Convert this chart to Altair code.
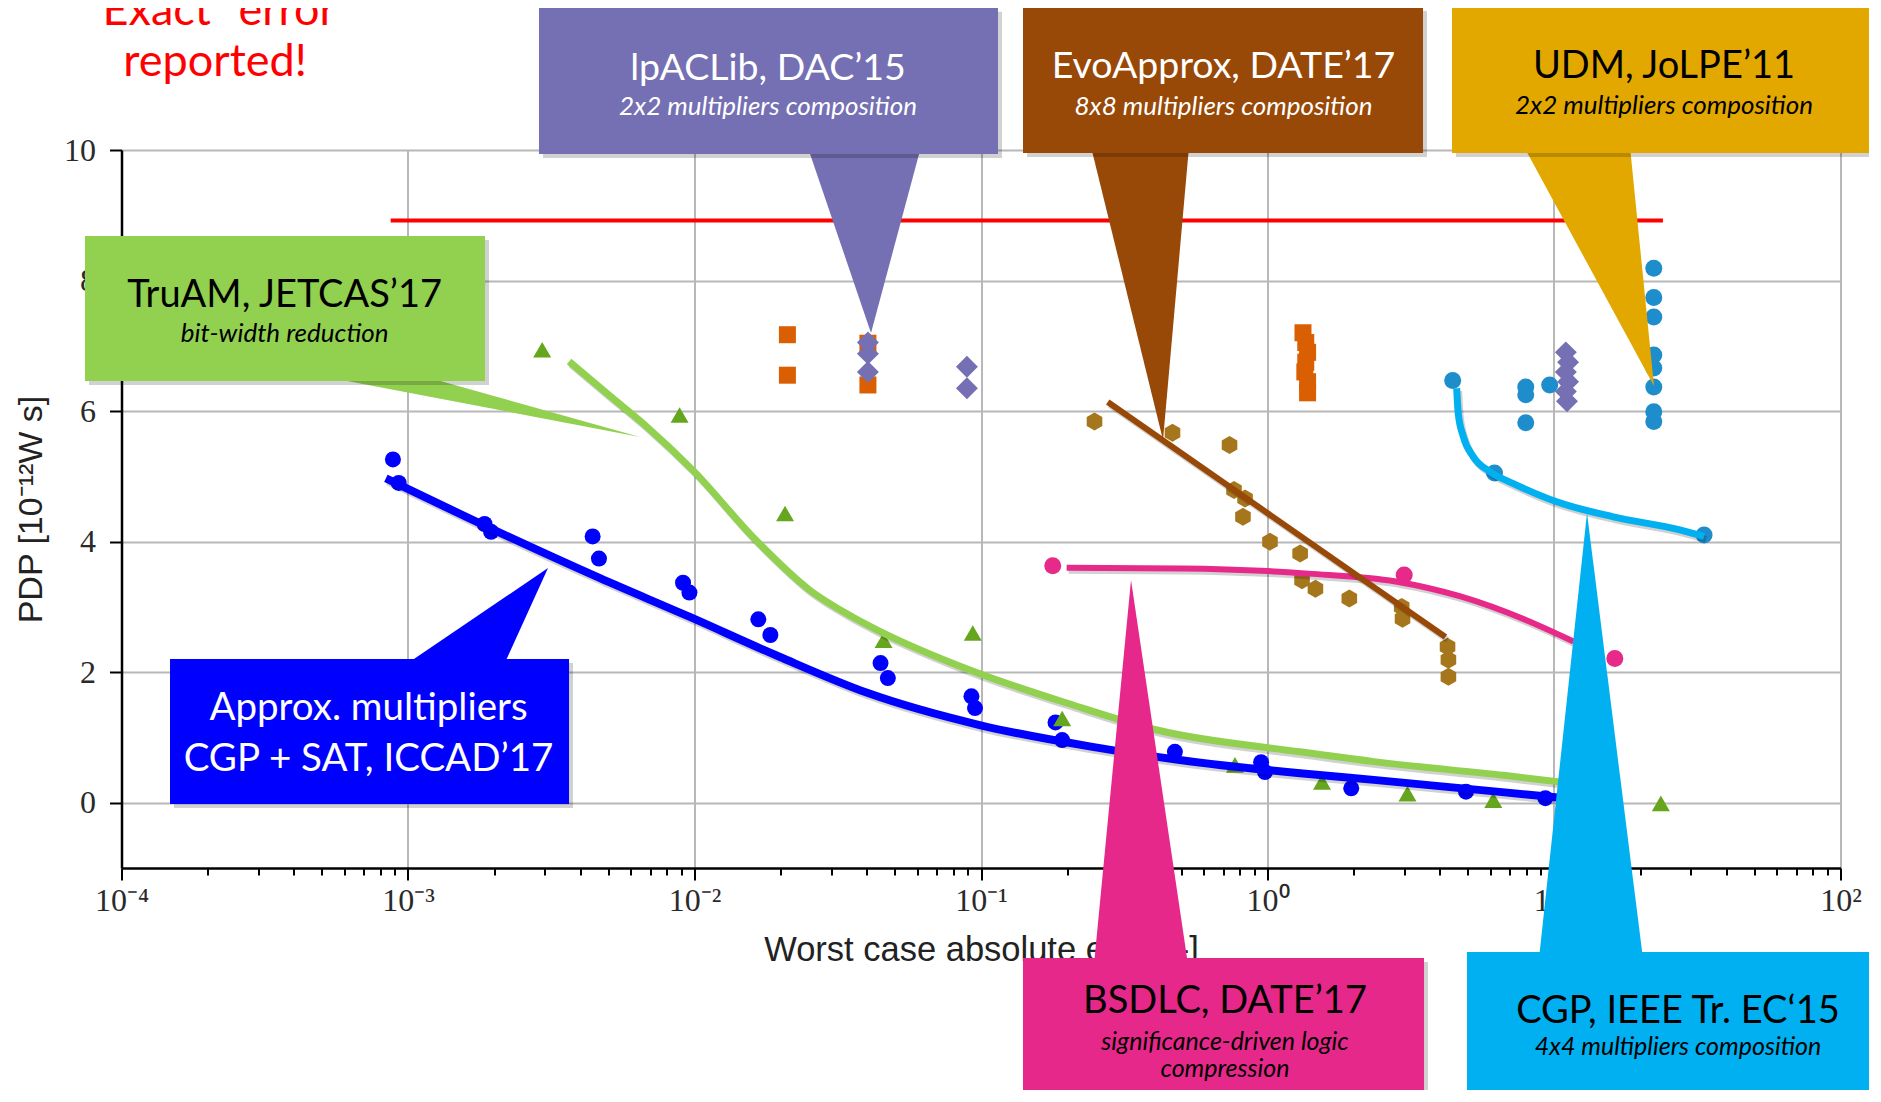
import json
import altair as alt
import pandas as pd

# ---------------- data ----------------
# Approx. multipliers CGP + SAT (ICCAD'17) - blue dots
cgpsat_x = [8.86e-4, 9.28e-4, 1.85e-3, 1.95e-3, 4.41e-3, 4.64e-3, 9.12e-3, 9.6e-3,
            0.0167, 0.0184, 0.0446, 0.0473, 0.0926, 0.0953, 0.182, 0.192,
            0.475, 0.95, 0.98, 1.96, 4.93, 9.33]
cgpsat_y = [5.26, 4.90, 4.27, 4.15, 4.08, 3.74, 3.37, 3.22,
            2.81, 2.57, 2.14, 1.91, 1.63, 1.45, 1.23, 0.96,
            0.78, 0.62, 0.47, 0.22, 0.17, 0.07]
# TruAM - green triangles
truam_x = [2.94e-3, 8.87e-3, 0.0207, 0.0457, 0.0936, 0.192, 0.77, 1.55, 3.08, 6.14, 23.6]
truam_y = [6.94, 5.94, 4.43, 2.49, 2.60, 1.29, 0.58, 0.32, 0.14, 0.04, -0.01]
# orange squares
square_x = [0.0211, 0.0211, 0.0403, 0.0403, 1.33, 1.36, 1.38, 1.36, 1.35, 1.38, 1.38]
square_y = [7.17, 6.55, 7.04, 6.40, 7.20, 7.05, 6.90, 6.75, 6.60, 6.45, 6.28]
# lpACLib - purple diamonds
lpaclib_x = [0.0403, 0.0403, 0.0403, 0.0893, 0.0893, 11.0, 11.2, 11.0, 11.2, 11.0, 11.1]
lpaclib_y = [7.05, 6.88, 6.60, 6.68, 6.35, 6.90, 6.75, 6.60, 6.45, 6.30, 6.15]
# UDM / CGP - light blue dots
udm_x = [4.43, 6.2, 7.97, 7.97, 7.97, 9.66, 22.3, 22.3, 22.3, 22.3, 22.3, 22.3, 22.3, 22.3, 33.4]
udm_y = [6.47, 5.05, 6.37, 6.25, 5.82, 6.40, 8.19, 7.74, 7.44, 6.86, 6.66, 6.37, 5.99, 5.84, 4.10]
# BSDLC - pink dots
bsdlc_x = [0.178, 3.0, 16.3]
bsdlc_y = [3.63, 3.49, 2.21]
# EvoApprox - hexagons
evo_x = [0.249, 0.466, 0.737, 0.764, 0.835, 0.821, 1.02, 1.30, 1.32, 1.47, 1.93, 2.94, 2.96, 4.25, 4.28, 4.28]
evo_y = [5.84, 5.67, 5.48, 4.79, 4.66, 4.38, 4.00, 3.82, 3.41, 3.28, 3.13, 3.00, 2.82, 2.39, 2.19, 1.93]

# fitted fronts
blue_fit_x = [8.37e-4, 1.95e-3, 4.68e-3, 9.59e-3, 0.0197, 0.0403, 0.0989, 0.242, 0.494, 1.30, 2.35, 9.48, 16.3]
blue_fit_y = [4.97, 4.20, 3.44, 2.85, 2.24, 1.68, 1.19, 0.86, 0.655, 0.45, 0.35, 0.095, -0.005]
green_fit_x = [3.65e-3, 5.01e-3, 6.70e-3, 9.94e-3, 0.0164, 0.0252, 0.0355, 0.0433, 0.0919, 0.202, 0.415, 1.30, 2.35, 6.68, 16.3]
green_fit_y = [6.76, 6.25, 5.79, 5.08, 4.02, 3.26, 2.85, 2.65, 2.03, 1.52, 1.11, 0.78, 0.63, 0.42, 0.22]
pink_fit_x = [0.199, 0.501, 1.0, 1.39, 2.80, 4.72, 7.97, 11.7]
pink_fit_y = [3.60, 3.59, 3.55, 3.51, 3.39, 3.16, 2.80, 2.47]
brown_fit_x = [0.277, 4.18]
brown_fit_y = [6.14, 2.54]
cyan_fit_x = [4.575, 4.63, 4.825, 5.23, 5.98, 7.21, 10.22, 16.1, 27.5, 33.4]
cyan_fit_y = [6.35, 5.97, 5.61, 5.30, 5.07, 4.89, 4.61, 4.38, 4.18, 4.08]
# exact-error reference line
exact_x = [8.7e-4, 24.0]
exact_y = 8.92

x_tick_labels = ["10⁻⁴", "10⁻³", "10⁻²", "10⁻¹", "10⁰", "10¹", "10²"]
y_tick_values = [0, 2, 4, 6, 8, 10]

# ---------------- callouts (positions in data units, x as log10) ----------------
boxes = [  # logx0, logx1, y0, y1, fill
    (-2.5428, -0.9407, 9.94, 12.18, "#7570B3"),
    (-0.8534, 0.5428, 9.954, 12.19, "#984807"),
    (0.644, 2.124, 9.954, 12.19, "#E2A800"),
    (-4.1274, -2.7312, 6.461, 8.682, "#92D050"),
    (-3.8307, -2.438, -0.02, 2.202, "#0000FF"),
    (-0.8534, 0.5463, -4.9, -2.379, "#E6288A"),
    (0.6963, 2.1414, -4.524, -2.288, "#00B0F0"),
]
pointers = [  # base_y, base_logx_left, base_logx_right, tip_logx, tip_y, fill
    (10.05, -1.6052, -1.2094, -1.3839, 7.196, "#7570B3"),
    (10.05, -0.6161, -0.274, -0.3647, 5.557, "#984807"),
    (10.05, 0.8953, 1.2653, 1.349, 6.384, "#E2A800"),
    (6.55, -3.3176, -2.9581, -2.190, 5.603, "#92D050"),
    (2.10, -3.014, -2.6663, -2.5113, 3.596, "#0000FF"),
    (-2.48, -0.6056, -0.2775, -0.4764, 3.412, "#E6288A"),
    (-2.39, 0.9476, 1.3106, 1.1152, 4.438, "#00B0F0"),
]
titles = [  # text, logx, y, color, size
    ("lpACLib, DAC’15", -1.7435, 11.072, "white", 37.5),
    ("EvoApprox, DATE’17", -0.1536, 11.10, "white", 37.5),
    ("UDM, JoLPE’11", 1.3839, 11.11, "black", 38),
    ("TruAM, JETCAS’17", -3.4304, 7.595, "black", 38),
    ("Approx. multipliers", -3.1379, 1.267, "white", 38.5),
    ("CGP + SAT, ICCAD’17", -3.1379, 0.486, "white", 38.5),
    ("BSDLC, DATE’17", -0.1483, -3.222, "black", 38),
    ("CGP, IEEE Tr. EC‘15", 1.4328, -3.375, "black", 38),
    ("“Exact” error", -3.6876, 11.92, "#FF0000", 45),
    ("reported!", -3.6736, 11.134, "#FF0000", 45),
]
subtitles = [  # text, logx, y, color, size
    ("2x2 multipliers composition", -1.7435, 10.536, "white", 26),
    ("8x8 multipliers composition", -0.1536, 10.536, "white", 26),
    ("2x2 multipliers composition", 1.3839, 10.55, "black", 26),
    ("bit-width reduction", -3.4304, 7.058, "black", 26),
    ("significance-driven logic", -0.1483, -3.789, "black", 25),
    ("compression", -0.1483, -4.203, "black", 25),
    ("4x4 multipliers composition", 1.4328, -3.866, "black", 25),
]

# ---------------- scales & axes ----------------
DEC = "abs(log(datum.value)/LN10 - round(log(datum.value)/LN10)) < 0.001"
label_expr = (f"{DEC} ? {json.dumps(x_tick_labels, ensure_ascii=False)}"
              f"[round(log(datum.value)/LN10)+4] : ''")

xs = alt.Scale(type="log", domain=[1e-4, 100], nice=False)
ys = alt.Scale(domain=[-1, 10], nice=False, zero=False)

xaxis = alt.Axis(
    title="Worst case absolute error [-]",
    tickCount=60, labelExpr=label_expr, labelOverlap=False, labelFlush=False,
    labelFont="Liberation Serif", labelFontSize=32, labelColor="#2a2a2a", labelPadding=5,
    tickSize={"condition": {"test": DEC, "value": 12}, "value": 7},
    tickWidth=2, tickColor="black",
    grid=True, gridColor="#b8b8b8", gridWidth=2,
    gridOpacity={"condition": {"test": DEC, "value": 1}, "value": 0},
    domainColor="black", domainWidth=2.5,
    titleFont="Liberation Sans", titleFontSize=34.5, titleFontWeight="normal",
    titleColor="#222222", titleY=92, titleBaseline="alphabetic",
)
yaxis = alt.Axis(
    title="PDP [10⁻¹²W s]", values=y_tick_values,
    labelFont="Liberation Serif", labelFontSize=32, labelColor="#2a2a2a", labelPadding=14,
    tickSize=12, tickWidth=2, tickColor="black",
    grid=True, gridColor="#b8b8b8", gridWidth=2,
    domainColor="black", domainWidth=2.5,
    titleFont="Liberation Sans", titleFontSize=34, titleFontWeight="normal",
    titleColor="#222222", titleX=-90, titleY=359, titleAngle=270, titleBaseline="middle",
)


def X(field="x"):
    return alt.X(f"{field}:Q", scale=xs, axis=xaxis, stack=None)


def Y(field="y"):
    return alt.Y(f"{field}:Q", scale=ys, axis=yaxis, stack=None)


layers = []

# exact error line
layers.append(
    alt.Chart(pd.DataFrame({"x": [exact_x[0]], "xb": [exact_x[1]], "y": [exact_y]}))
    .mark_rule(color="#FF0000", strokeWidth=4)
    .encode(x=X(), x2=alt.X2("xb:Q"), y=Y())
)

HEX = "M0,-1L0.866,-0.5L0.866,0.5L0,1L-0.866,0.5L-0.866,-0.5Z"


def pts(xv, yv, shape, color, size):
    df = pd.DataFrame({"x": xv, "y": yv})
    return alt.Chart(df).mark_point(shape=shape, filled=True, color=color, size=size,
                                    opacity=1, strokeWidth=0).encode(x=X(), y=Y())


layers += [
    pts(udm_x, udm_y, "circle", "#1E8DCB", 289),
    pts(bsdlc_x, bsdlc_y, "circle", "#E7298A", 289),
    pts(cgpsat_x, cgpsat_y, "circle", "#0000FF", 256),
    pts(evo_x, evo_y, HEX, "#A6761D", 324),
    pts(square_x, square_y, "square", "#D95F02", 289),
    pts(lpaclib_x, lpaclib_y, "diamond", "#7570B3", 480),
    pts(truam_x, truam_y, "triangle-up", "#66A61E", 324),
]


def fit(xv, yv, color, width, interp="monotone"):
    df = pd.DataFrame({"x": xv, "y": yv})
    shadow = alt.Chart(df).mark_line(color="black", strokeWidth=width, opacity=0.18,
                                     interpolate=interp, xOffset=2, yOffset=3).encode(x=X(), y=Y())
    line = alt.Chart(df).mark_line(color=color, strokeWidth=width,
                                   interpolate=interp).encode(x=X(), y=Y())
    return [shadow, line]


layers += fit(blue_fit_x, blue_fit_y, "#0000FF", 8)
layers += fit(green_fit_x, green_fit_y, "#92D050", 7)
layers += fit(pink_fit_x, pink_fit_y, "#E7298A", 6)
layers += fit(brown_fit_x, brown_fit_y, "#984807", 6, "linear")
layers += fit(cyan_fit_x, cyan_fit_y, "#00B0F0", 7)

# callout pointers (triangles)
prow = []
for i, (by, bl, br, tx, ty, fill) in enumerate(pointers):
    prow.append({"cid": i, "y": by, "xa": 10 ** bl, "xb": 10 ** br, "fill": fill})
    prow.append({"cid": i, "y": ty, "xa": 10 ** tx, "xb": 10 ** tx, "fill": fill})
layers.append(
    alt.Chart(pd.DataFrame(prow)).mark_area(orient="horizontal", opacity=1)
    .encode(y=Y("y"), x=X("xa"), x2=alt.X2("xb:Q"),
            color=alt.Color("fill:N", scale=None), detail="cid:N")
)

# callout boxes
brow = [{"x0": 10 ** a, "x1": 10 ** b, "y0": c, "y1": d, "fill": f} for a, b, c, d, f in boxes]
bdf = pd.DataFrame(brow)
layers.append(
    alt.Chart(bdf).mark_rect(color="black", opacity=0.18, xOffset=4, x2Offset=4, yOffset=4, y2Offset=4)
    .encode(x=X("x0"), x2=alt.X2("x1:Q"), y=Y("y0"), y2=alt.Y2("y1:Q"))
)
layers.append(
    alt.Chart(bdf).mark_rect(opacity=1)
    .encode(x=X("x0"), x2=alt.X2("x1:Q"), y=Y("y0"), y2=alt.Y2("y1:Q"),
            color=alt.Color("fill:N", scale=None))
)


def texts(rows, style):
    df = pd.DataFrame([{"t": t, "x": 10 ** lx, "y": y, "c": c, "s": s} for t, lx, y, c, s in rows])
    return alt.Chart(df).mark_text(font="Lato", fontStyle=style, align="center",
                                   baseline="alphabetic").encode(
        x=X(), y=Y(), text="t:N", color=alt.Color("c:N", scale=None),
        size=alt.Size("s:Q", scale=None))


layers.append(texts(titles, "normal"))
layers.append(texts(subtitles, "italic"))

chart = (
    alt.layer(*layers)
    .properties(width=1719, height=718, autosize="none",
                padding={"left": 113.5, "top": 142, "right": 28, "bottom": 222})
    .configure_view(stroke="black", strokeWidth=2)
    .configure(background="white")
)

chart.save("out.html", embed_options={"renderer": "svg", "actions": False})
